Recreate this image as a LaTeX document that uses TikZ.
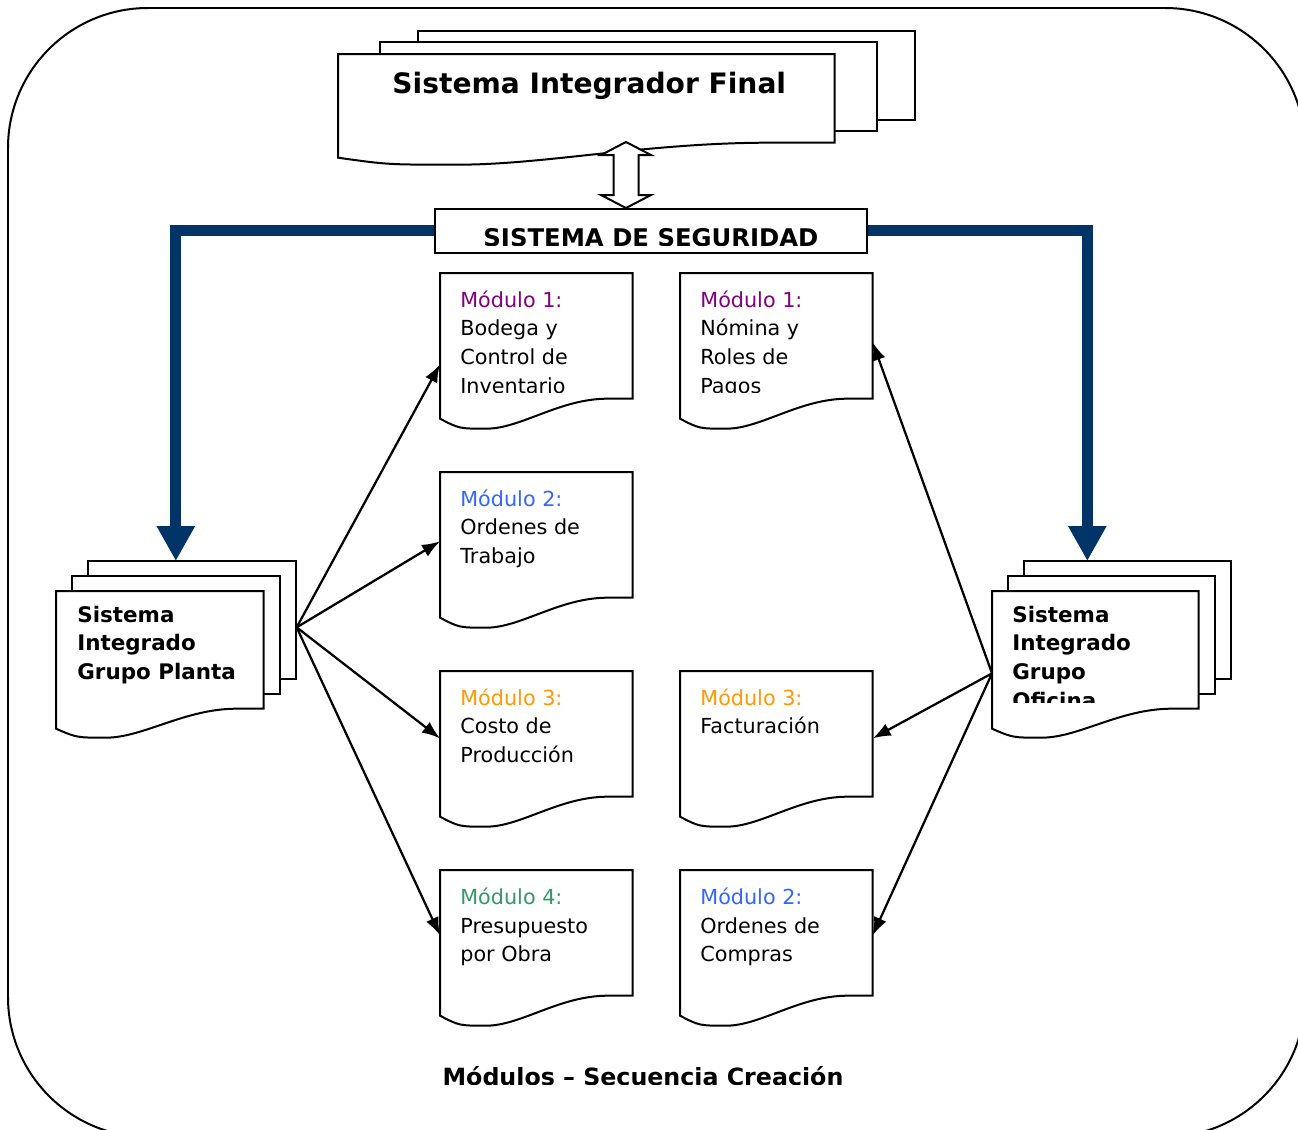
\documentclass[tikz,border=0pt]{standalone}
\usepackage{fontspec}
\setmainfont{DejaVu Sans}
\usetikzlibrary{arrows.meta,calc,backgrounds}
\definecolor{navy}{RGB}{0,51,102}
\definecolor{modA}{RGB}{128,0,128}
\definecolor{modB}{RGB}{51,102,255}
\definecolor{modC}{RGB}{255,153,0}
\definecolor{modD}{RGB}{51,153,102}

% sheet with a wavy lower edge: #1 node, #2 drop at the left, #3 deepest point
\newcommand{\docpath}[3]{(#1.north west) -- (#1.north east) -- (#1.south east)
  -- ($(#1.south east)!0.13!(#1.south west)$)
  .. controls ($(#1.south east)!0.38!(#1.south west)$) and ($(#1.south east)!0.58!(#1.south west)+(0,#3)$)
  .. ($(#1.south east)!0.76!(#1.south west)+(0,#3)$)
  .. controls ($(#1.south east)!0.9!(#1.south west)+(0,#3)$) .. ($(#1.south west)+(0,#2)$) -- cycle}

\begin{document}
\begin{tikzpicture}[x=0.02cm, y=-0.02cm,
  thinln/.style={line width=0.04cm},
  docbox/.style={rectangle, inner sep=0pt, anchor=north west},
  modtxt/.style={anchor=base west, inner sep=0pt, font=\fontsize{11.8}{16.5}\selectfont},
  grptxt/.style={anchor=base west, inner sep=0pt, font=\bfseries\fontsize{12.2}{16.5}\selectfont},
  fan/.style={line width=0.045cm, -{Latex[length=0.36cm,width=0.27cm]}},
  feed/.style={draw=navy, line width=0.22cm, -{Triangle[length=0.7cm,width=0.72cm]}}]
\useasboundingbox (0,0) rectangle (1298,1129);
\clip (0,0) rectangle (1298,1129);
% frame
\draw[thinln, rounded corners=2.8cm] (8,8) rectangle (1305,1137);

% stacked sheets
\node[docbox, minimum width=9.92cm, minimum height=1.76cm] (fin) at (338,54) {};
\node[docbox, minimum width=4.14cm, minimum height=2.34cm] (planta) at (56,591) {};
\node[docbox, minimum width=4.12cm, minimum height=2.34cm] (oficina) at (992,591) {};
\begin{scope}[on background layer]
\foreach \g/\ax/\ay/\bx/\by/\lb/\dip in {fin/80/-23/42/-12/15/22,
    planta/32/-30/16/-15/20/29, oficina/32/-30/16/-15/20/29}{
  \draw[thinln, fill=white] ($(\g.north west)+(\ax,\ay)$) rectangle ($(\g.south east)+(\ax,\ay)$);
  \draw[thinln, fill=white] ($(\g.north west)+(\bx,\by)$) rectangle ($(\g.south east)+(\bx,\by)$);
  \draw[thinln, fill=white] \docpath{\g}{\lb}{\dip};
}
\end{scope}
\node[anchor=base, inner sep=0pt, font=\bfseries\fontsize{16}{19}\selectfont] (fintxt)
  at ($(fin.north)+(3,39)$) {Sistema Integrador Final};
\node[grptxt] (plantatxt) at ($(planta.north west)+(21,31)$)
  {\parbox[t]{4cm}{Sistema\\Integrado\\Grupo Planta}};
\begin{scope}
\clip (oficina.north west) rectangle ($(oficina.south east)+(0,-6)$);
\node[grptxt] (oficinatxt) at ($(oficina.north west)+(20,31)$)
  {\parbox[t]{4cm}{Sistema\\Integrado\\Grupo\\Oficina}};
\end{scope}

% security layer
\node[docbox, draw, thinln, fill=white, minimum width=8.64cm, minimum height=0.88cm] (seg) at (434,208) {};
\begin{scope}
\clip (seg.north west) rectangle ($(seg.south east)+(0,-8)$);
\node[anchor=base, inner sep=0pt, font=\bfseries\fontsize{13.85}{16}\selectfont] (segtxt)
  at ($(seg.north)+(0,38)$) {SISTEMA DE SEGURIDAD};
\end{scope}

% two-way link
\coordinate (lnk) at (626,175);
\draw[thinln, fill=white] (lnk) ++(0,-33) -- ++(25,13) -- ++(-12.5,0) -- ++(0,40) -- ++(12.5,0)
  -- ++(-25,13) -- ++(-25,-13) -- ++(12.5,0) -- ++(0,-40) -- ++(-12.5,0) -- cycle;

\draw[feed] (seg.west) -| ($(planta.north)+(16,-30)$);
\draw[feed] (seg.east) -| ($(oficina.north)+(-8,-30)$);

% modules
\foreach \nm/\x/\y/\col/\num/\txt in {
    m1/440/273/modA/1/{Bodega y\\Control de\\Inventario},
    m2/440/472/modB/2/{Ordenes de\\Trabajo},
    m3/440/671/modC/3/{Costo de\\Producción},
    m4/440/870/modD/4/{Presupuesto\\por Obra},
    n1/680/273/modA/1/{Nómina y\\Roles de\\Pagos},
    n3/680/671/modC/3/{Facturación},
    n2/680/870/modB/2/{Ordenes de\\Compras}}{
  \node[docbox, minimum width=3.84cm, minimum height=2.5cm] (\nm) at (\x,\y) {};
  \begin{scope}[on background layer]
    \draw[thinln, fill=white] \docpath{\nm}{20}{30};
  \end{scope}
  \begin{scope}
    \clip (\nm.north west) rectangle ($(\nm.south east)+(0,-6)$);
    \node[modtxt] (t\nm) at ($(\nm.north west)+(20,34)$)
      {\parbox[t]{3.6cm}{\textcolor{\col}{Módulo \num:}\\\txt}};
  \end{scope}
}

% fan-out arrows
\coordinate (pout) at ($(planta.east)+(33,-22.5)$);
\coordinate (oin) at ($(oficina.west)+(0,23.5)$);
\foreach \m/\s in {m1/28.5, m2/6.5, m3/4.5, m4/2.5}
  \draw[fan] (pout) -- ($(\m.west)+(0,\s)$);
\foreach \m/\s in {n1/6.5, n3/4.5, n2/2.5}
  \draw[fan] (oin) -- ($(\m.east)+(0,\s)$);

\begin{scope}
\clip (300,1040) rectangle (1000,1084);
\node[anchor=base, inner sep=0pt, font=\bfseries\fontsize{13.5}{16}\selectfont] (caption)
  at (643,1085) {Módulos – Secuencia Creación};
\end{scope}
\end{tikzpicture}
\end{document}
